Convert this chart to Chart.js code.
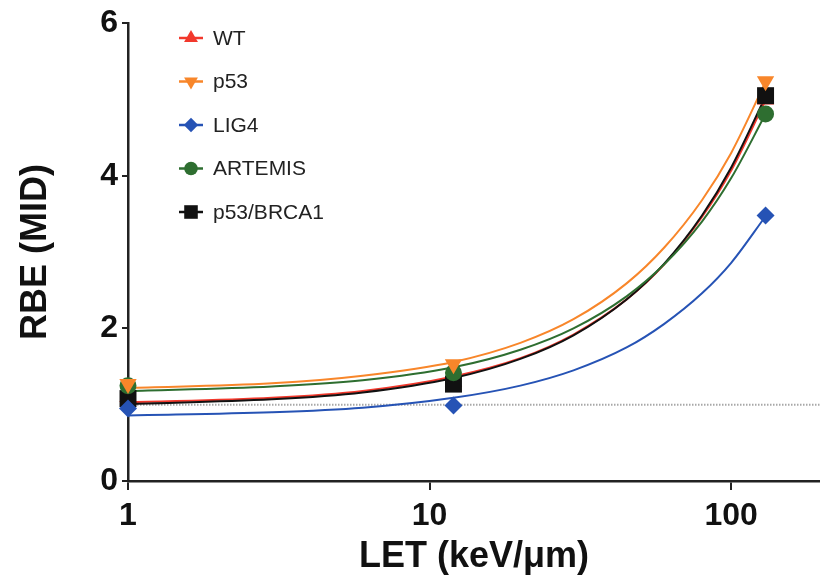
<!DOCTYPE html>
<html>
<head>
<meta charset="utf-8">
<script src="https://cdn.jsdelivr.net/npm/chart.js"></script>
<style>
  html, body { margin: 0; padding: 0; background: #fff; overflow: hidden; }
  #wrap { position: relative; width: 820px; height: 587px; }
  #rbeChart { display: block; }
</style>
</head>
<body>
<div id="wrap"><canvas id="rbeChart"></canvas></div>
<script>
// measured points (LET in keV/um)
const letValues = [1, 12, 130];
const wtRBE = [1.10, 1.30, 5.00];
const p53RBE = [1.27, 1.53, 5.24];
const lig4RBE = [0.95, 0.99, 3.48];
const artemisRBE = [1.25, 1.42, 4.81];
const brcaRBE = [1.08, 1.27, 5.05];

// fitted curves
const fitLET = [1, 3, 6, 12, 20, 30, 45, 60, 80, 100, 130];
const wtFit = [1.03, 1.09, 1.18, 1.37, 1.61, 1.92, 2.38, 2.84, 3.46, 4.07, 4.99];
const p53Fit = [1.22, 1.28, 1.38, 1.56, 1.81, 2.12, 2.59, 3.06, 3.68, 4.30, 5.23];
const lig4Fit = [0.86, 0.90, 0.96, 1.09, 1.25, 1.45, 1.75, 2.06, 2.46, 2.86, 3.47];
const artemisFit = [1.18, 1.24, 1.32, 1.49, 1.72, 2.00, 2.42, 2.84, 3.40, 3.97, 4.81];
const brcaFit = [1.01, 1.07, 1.16, 1.35, 1.60, 1.91, 2.38, 2.85, 3.48, 4.11, 5.04];

const refLineLET = [1, 197];
const refLineRBE = 1;

const xTicks = [1, 10, 100];
const yTicks = [0, 2, 4, 6];

const FONT = '"Liberation Sans", Arial, Helvetica, sans-serif';

const series = [
  { name: 'WT', color: '#f2382c', pts: wtRBE, fit: wtFit, style: 'triangle', rot: 0, r: 10, top: 5 },
  { name: 'p53', color: '#f8862a', pts: p53RBE, fit: p53Fit, style: 'triangle', rot: 180, r: 10, top: 1 },
  { name: 'LIG4', color: '#2653b5', pts: lig4RBE, fit: lig4Fit, style: 'rectRot', rot: 0, r: 9, top: 3 },
  { name: 'ARTEMIS', color: '#2e6e30', pts: artemisRBE, fit: artemisFit, style: 'circle', rot: 0, r: 8.5, top: 2 },
  { name: 'p53/BRCA1', color: '#111111', pts: brcaRBE, fit: brcaFit, style: 'rect', rot: 0, r: 12, top: 4 }
];

const datasets = [{
  type: 'line',
  data: refLineLET.map(x => ({ x, y: refLineRBE })),
  borderColor: '#a8a8a8',
  borderWidth: 2,
  borderDash: [1.5, 1.5],
  pointRadius: 0,
  clip: false,
  order: 20
}];

series.forEach((s, i) => {
  datasets.push({
    type: 'line',
    label: s.name + ' fit',
    data: fitLET.map((x, k) => ({ x, y: s.fit[k] })),
    borderColor: s.color,
    borderWidth: 2,
    pointRadius: 0,
    cubicInterpolationMode: 'monotone',
    clip: false,
    order: 10 + s.top
  });
  datasets.push({
    type: 'scatter',
    label: s.name,
    data: letValues.map((x, k) => ({ x, y: s.pts[k] })),
    backgroundColor: s.color,
    borderColor: s.color,
    borderWidth: 0,
    pointStyle: s.style,
    pointRotation: s.rot,
    pointRadius: s.r,
    clip: false,
    order: s.top
  });
});

function markerPath(ctx, style, rot, x, y, r) {
  ctx.beginPath();
  if (style === 'circle') {
    ctx.arc(x, y, r, 0, Math.PI * 2);
  } else if (style === 'rect') {
    const h = r * Math.SQRT1_2;
    ctx.rect(x - h, y - h, 2 * h, 2 * h);
  } else if (style === 'rectRot') {
    ctx.moveTo(x - r, y); ctx.lineTo(x, y - r); ctx.lineTo(x + r, y); ctx.lineTo(x, y + r);
    ctx.closePath();
  } else {
    const flip = rot === 180 ? -1 : 1;
    for (let k = 0; k < 3; k++) {
      const a = k * 2 * Math.PI / 3;
      const px = x + Math.sin(a) * r;
      const py = y - flip * Math.cos(a) * r;
      if (k === 0) ctx.moveTo(px, py); else ctx.lineTo(px, py);
    }
    ctx.closePath();
  }
}

const legendPlugin = {
  id: 'insideLegend',
  afterDraw(chart) {
    const ctx = chart.ctx;
    ctx.save();
    series.forEach((s, i) => {
      const y = 38 + i * 43.5;
      ctx.strokeStyle = s.color;
      ctx.lineWidth = 2.5;
      ctx.beginPath();
      ctx.moveTo(179, y);
      ctx.lineTo(203, y);
      ctx.stroke();
      ctx.fillStyle = s.color;
      markerPath(ctx, s.style, s.rot, 191, y, s.r * 0.8);
      ctx.fill();
      ctx.fillStyle = '#222';
      ctx.font = '21px ' + FONT;
      ctx.textBaseline = 'middle';
      ctx.textAlign = 'left';
      ctx.fillText(s.name, 213, y + 1);
    });
    ctx.restore();
  }
};

new Chart(document.getElementById('rbeChart'), {
  type: 'scatter',
  data: { datasets },
  plugins: [legendPlugin],
  options: {
    responsive: true,
    maintainAspectRatio: false,
    animation: false,
    layout: { autoPadding: false, padding: { top: 20, right: 0, left: 0, bottom: 0 } },
    plugins: {
      legend: { display: false },
      tooltip: { enabled: false }
    },
    scales: {
      x: {
        type: 'logarithmic',
        position: 'bottom',
        min: 1,
        max: 197,
        border: { color: '#222', width: 2.5 },
        grid: { drawOnChartArea: false, tickLength: 9, color: '#222', lineWidth: 2 },
        afterBuildTicks: scale => { scale.ticks = xTicks.map(v => ({ value: v })); },
        afterFit: scale => {
          scale.height = 106;
          scale.paddingLeft = 0;
          scale.paddingRight = 0;
        },
        ticks: {
          color: '#111',
          padding: 7,
          maxRotation: 0,
          autoSkip: false,
          font: { family: FONT, size: 32, weight: 'bold' },
          callback: v => String(v)
        },
        title: {
          display: true,
          text: 'LET (keV/\u03bcm)',
          color: '#111',
          padding: { top: 0, bottom: 8 },
          font: { family: FONT, size: 36, weight: 'bold' }
        }
      },
      y: {
        min: 0,
        max: 6,
        border: { color: '#222', width: 2.5 },
        grid: { drawOnChartArea: false, tickLength: 6, color: '#222', lineWidth: 2 },
        afterBuildTicks: scale => { scale.ticks = yTicks.map(v => ({ value: v })); },
        afterFit: scale => { scale.width = 128; },
        ticks: {
          color: '#111',
          padding: 4,
          font: { family: FONT, size: 32, weight: 'bold' }
        },
        title: {
          display: true,
          text: 'RBE (MID)',
          color: '#111',
          padding: { top: 14, bottom: 0 },
          font: { family: FONT, size: 36, weight: 'bold' }
        }
      }
    }
  }
});
</script>
</body>
</html>
